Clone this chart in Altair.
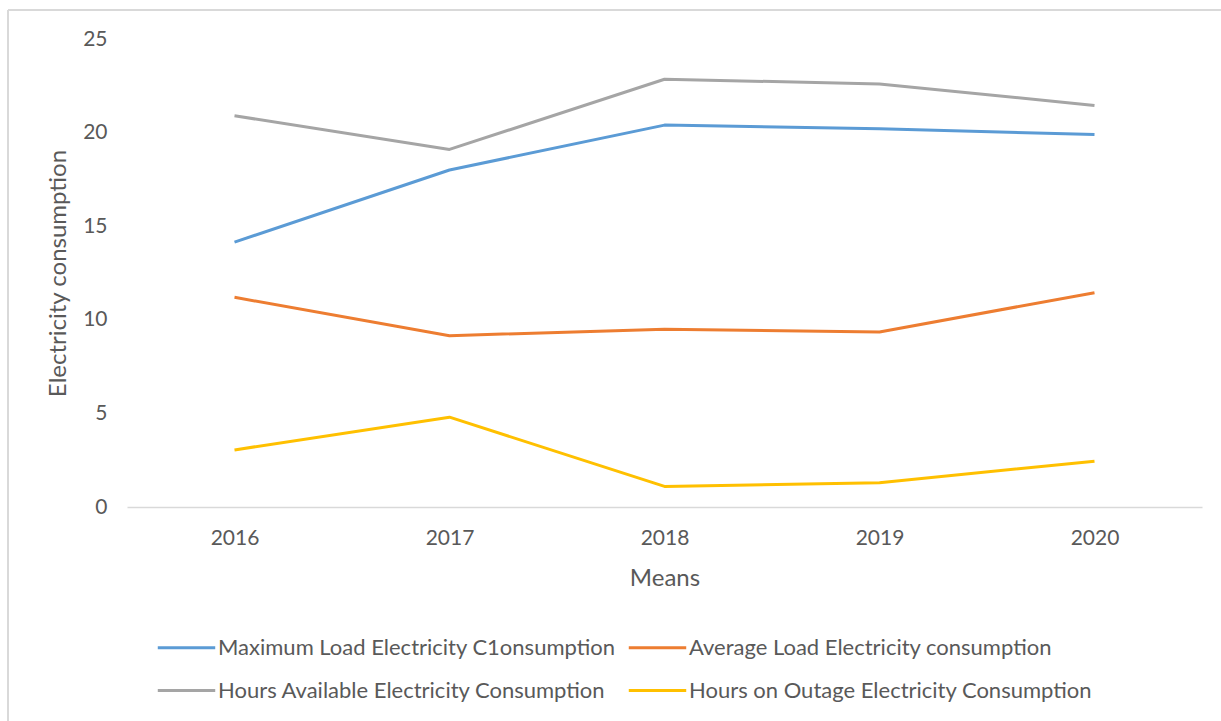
import altair as alt
import pandas as pd

years = ["2016", "2017", "2018", "2019", "2020"]
series_names = [
    "Maximum Load Electricity C1onsumption",
    "Average Load Electricity consumption",
    "Hours Available Electricity Consumption",
    "Hours on Outage Electricity Consumption",
]
max_load = [14.15, 18.0, 20.4, 20.2, 19.9]
avg_load = [11.2, 9.15, 9.5, 9.35, 11.45]
hours_avail = [20.9, 19.1, 22.85, 22.6, 21.45]
hours_outage = [3.05, 4.8, 1.1, 1.3, 2.45]
colors = ["#5B9BD5", "#ED7D31", "#A5A5A5", "#FFC000"]

rows = []
for name, vals in zip(series_names, [max_load, avg_load, hours_avail, hours_outage]):
    for y, v in zip(years, vals):
        rows.append({"Year": y, "Series": name, "Value": v})
df = pd.DataFrame(rows)

FONT = "Lato"
TXT = "#595959"

lines = alt.Chart(df).mark_line(strokeWidth=3, strokeJoin="round").encode(
    x=alt.X("Year:O", sort=years,
            scale=alt.Scale(paddingInner=0, paddingOuter=0),
            axis=alt.Axis(title="Means", labelAngle=0, ticks=False,
                          domainColor="#D9D9D9", domainWidth=1.5,
                          labelFont=FONT, labelFontSize=21, labelColor=TXT,
                          labelPadding=20, titleFont=FONT, titleFontSize=24,
                          titleFontWeight="normal", titleColor=TXT, titlePadding=18)),
    y=alt.Y("Value:Q", scale=alt.Scale(domain=[0, 25], nice=False),
            axis=alt.Axis(title="Electricity consumption", values=[0, 5, 10, 15, 20, 25],
                          grid=False, ticks=False, domain=False,
                          labelFont=FONT, labelFontSize=21, labelColor=TXT,
                          labelPadding=20, titleFont=FONT, titleFontSize=24,
                          titleFontWeight="normal", titleColor=TXT, titlePadding=12)),
    color=alt.Color("Series:N", sort=series_names,
                    scale=alt.Scale(domain=series_names, range=colors),
                    legend=alt.Legend(title=None, orient="none", legendX=29, legendY=578,
                                      direction="horizontal", columns=2,
                                      symbolType="stroke", symbolSize=3300,
                                      symbolStrokeWidth=3, labelFont=FONT, labelFontSize=22,
                                      labelColor=TXT, labelLimit=700, columnPadding=6,
                                      rowPadding=1, labelOffset=1)),
)

border_top = alt.Chart(df).mark_rule(color="#D9D9D9", strokeWidth=2).encode(
    x=alt.value(-119), x2=alt.value(1094), y=alt.value(-29))
border_left = alt.Chart(df).mark_rule(color="#D9D9D9", strokeWidth=2).encode(
    x=alt.value(-119), y=alt.value(-29), y2=alt.value(682))

chart = alt.layer(border_top, border_left, lines).properties(
    width=1075, height=468,
    background="white",
    autosize=alt.AutoSizeParams(type="none"),
    padding={"left": 127, "top": 39, "right": 19, "bottom": 214},
).configure_view(strokeWidth=0, stroke=None)

chart.save("out.html", embed_options={"renderer": "svg", "actions": False})
